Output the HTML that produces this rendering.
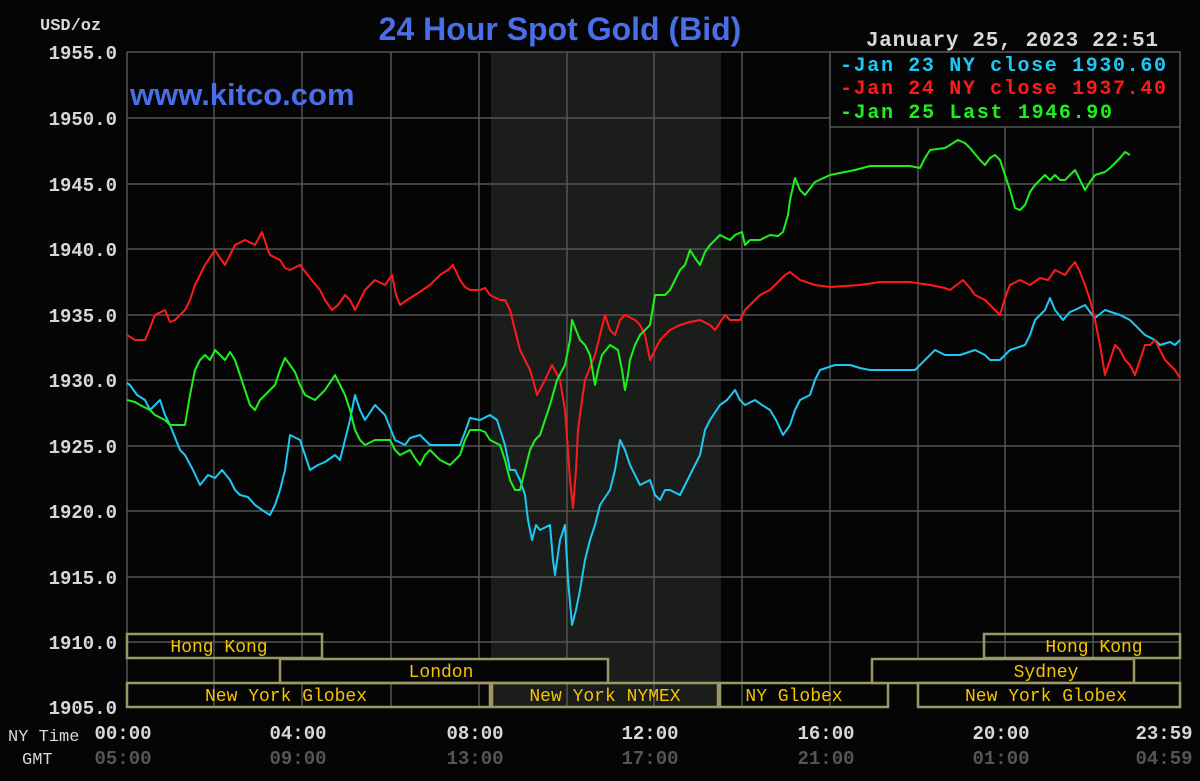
<!DOCTYPE html>
<html><head><meta charset="utf-8"><style>
html,body{margin:0;padding:0;background:#050505;}
svg{display:block}
text{font-family:"Liberation Mono","DejaVu Sans Mono",monospace;}
</style></head><body>
<svg width="1200" height="781" viewBox="0 0 1200 781" xmlns="http://www.w3.org/2000/svg">
<rect width="1200" height="781" fill="#050505"/>
<rect x="491" y="52" width="230" height="655" fill="#1a1d1a"/>
<g stroke="#555" stroke-width="1.5">
<line x1="127" y1="52" x2="1180" y2="52"/><line x1="127" y1="118" x2="1180" y2="118"/><line x1="127" y1="184" x2="1180" y2="184"/><line x1="127" y1="249" x2="1180" y2="249"/><line x1="127" y1="315" x2="1180" y2="315"/><line x1="127" y1="380" x2="1180" y2="380"/><line x1="127" y1="446" x2="1180" y2="446"/><line x1="127" y1="511" x2="1180" y2="511"/><line x1="127" y1="577" x2="1180" y2="577"/><line x1="127" y1="642" x2="1180" y2="642"/>
<line x1="127" y1="52" x2="127" y2="707"/><line x1="214" y1="52" x2="214" y2="707"/><line x1="302" y1="52" x2="302" y2="707"/><line x1="391" y1="52" x2="391" y2="707"/><line x1="479" y1="52" x2="479" y2="707"/><line x1="567" y1="52" x2="567" y2="707"/><line x1="654" y1="52" x2="654" y2="707"/><line x1="742" y1="52" x2="742" y2="707"/><line x1="830" y1="52" x2="830" y2="707"/><line x1="918" y1="52" x2="918" y2="707"/><line x1="1005" y1="52" x2="1005" y2="707"/><line x1="1093" y1="52" x2="1093" y2="707"/><line x1="1180" y1="52" x2="1180" y2="707"/>
</g>
<g font-size="19" font-weight="bold" fill="#d8d8d8" text-anchor="end">
<text x="117" y="59">1955.0</text><text x="117" y="125">1950.0</text><text x="117" y="191">1945.0</text><text x="117" y="256">1940.0</text><text x="117" y="322">1935.0</text><text x="117" y="387">1930.0</text><text x="117" y="453">1925.0</text><text x="117" y="518">1920.0</text><text x="117" y="584">1915.0</text><text x="117" y="649">1910.0</text><text x="117" y="714">1905.0</text>
</g>
<text x="40" y="30" font-size="17" font-weight="bold" fill="#d8d8d8">USD/oz</text>
<text x="560" y="40" font-size="32" font-weight="bold" fill="#4a6ee8" text-anchor="middle" style="font-family:'Liberation Sans',sans-serif">24 Hour Spot Gold (Bid)</text>
<text x="130" y="105" font-size="31" font-weight="bold" fill="#4a6ee8" style="font-family:'Liberation Sans',sans-serif">www.kitco.com</text>
<text x="1158" y="46" font-size="21" font-weight="bold" fill="#d8d8d8" text-anchor="end" textLength="292">January 25, 2023 22:51</text>
<rect x="830" y="52" width="350" height="75" fill="#050505" stroke="#555" stroke-width="1.5"/>
<g font-size="20" font-weight="bold">
<text x="840" y="71" fill="#1ec8f5" textLength="326">-Jan 23 NY close 1930.60</text>
<text x="840" y="94" fill="#ff1a1a" textLength="326">-Jan 24 NY close 1937.40</text>
<text x="840" y="118" fill="#1ef01e" textLength="272">-Jan 25 Last 1946.90</text>
</g>
<g fill="none" stroke-width="2" stroke-linejoin="round">
<polyline stroke="#1ec8f5" points="127,383 130,385 137,395 145,400 150,410 155,405 160,400 165,415 170,425 180,450 185,455 193,470 200,485 208,475 215,478 222,470 230,480 235,490 240,495 248,497 255,505 262,510 270,515 275,505 280,490 285,470 290,435 300,440 305,455 310,470 318,465 325,462 335,455 340,460 345,440 350,420 355,395 360,410 365,420 375,405 385,415 395,440 405,445 410,438 420,435 430,445 440,445 450,445 460,445 465,432 470,418 480,420 490,415 497,420 505,445 510,470 515,470 520,480 525,495 528,520 532,540 536,525 540,530 550,525 553,560 555,575 560,540 565,525 568,580 572,625 576,610 580,590 585,560 590,540 595,525 600,505 610,490 615,470 620,440 625,450 630,465 640,485 650,480 655,495 660,500 665,490 670,490 680,495 690,475 695,465 700,455 705,430 710,420 720,405 727,400 735,390 740,400 745,405 755,400 762,405 770,410 776,420 783,435 790,425 795,410 800,400 810,395 815,380 820,370 835,365 850,365 860,368 870,370 900,370 915,370 925,360 935,350 945,355 960,355 975,350 985,355 990,360 1000,360 1010,350 1025,345 1030,335 1035,320 1045,310 1050,298 1055,310 1063,320 1070,312 1075,310 1085,305 1090,312 1095,318 1105,310 1120,315 1130,320 1135,325 1145,335 1155,340 1160,345 1170,342 1175,345 1180,340"/>
<polyline stroke="#ff1a1a" points="127,335 135,340 145,340 150,328 155,315 165,310 170,322 175,320 185,310 190,300 195,285 205,265 215,250 220,258 225,265 235,245 245,240 255,245 262,232 268,250 270,255 280,260 285,268 290,270 300,265 310,278 320,290 325,300 332,310 338,305 345,295 350,300 355,310 360,300 365,290 375,280 385,285 392,275 396,295 400,305 407,300 415,295 430,285 440,275 448,270 453,265 460,280 465,287 470,290 480,290 485,288 490,295 500,300 505,300 510,310 515,330 520,350 525,360 530,370 533,380 537,395 545,380 552,365 560,380 565,410 568,450 570,480 573,508 576,470 578,430 582,400 585,380 595,355 600,335 605,315 610,330 615,335 620,320 625,315 635,320 640,325 645,335 648,350 650,360 655,350 660,340 670,330 680,325 690,322 700,320 710,325 715,330 725,315 730,320 740,320 745,310 750,305 760,295 770,290 775,285 785,275 790,272 800,280 815,285 830,287 860,285 880,282 910,282 930,285 945,288 950,290 963,280 970,288 975,295 985,300 990,305 1000,315 1005,298 1010,285 1020,280 1030,285 1040,278 1048,280 1055,270 1065,275 1070,268 1075,262 1080,272 1085,285 1090,300 1095,320 1100,345 1105,375 1110,360 1115,345 1120,350 1125,360 1130,365 1135,375 1140,360 1145,345 1150,345 1155,340 1160,350 1165,360 1170,365 1175,370 1180,378"/>
<polyline stroke="#1ef01e" points="127,400 135,402 140,405 150,410 155,415 165,420 170,425 185,425 190,395 195,370 200,360 205,355 210,360 215,350 225,360 230,352 235,360 240,375 245,390 250,405 255,410 260,400 265,395 275,385 280,370 285,358 290,365 295,372 300,385 305,395 315,400 320,395 325,390 335,375 340,385 345,395 350,410 355,430 360,440 365,445 375,440 380,440 390,440 395,450 400,455 410,450 415,458 420,465 425,455 430,450 435,455 440,460 450,465 455,460 460,455 465,440 470,430 480,430 485,432 490,440 500,445 505,460 510,480 515,490 520,490 525,470 530,450 535,440 540,435 545,420 550,405 557,380 565,365 570,340 572,320 576,330 580,340 585,345 590,355 595,385 598,370 602,355 610,345 618,350 622,370 625,390 628,375 630,360 635,345 640,335 645,330 650,325 655,295 665,295 670,290 675,280 680,270 685,265 690,250 695,258 700,265 705,252 710,245 715,240 720,235 730,240 735,235 742,232 745,245 750,240 760,240 770,235 778,236 783,232 788,215 790,200 795,178 800,190 805,195 815,182 830,175 845,172 855,170 870,166 910,166 920,168 925,158 930,150 945,148 950,145 958,140 965,143 970,148 980,160 985,165 990,158 995,155 1000,160 1005,175 1010,190 1015,208 1020,210 1025,205 1030,192 1035,185 1045,175 1050,180 1055,175 1060,180 1065,180 1070,175 1075,170 1080,180 1085,190 1090,182 1095,175 1105,172 1110,168 1115,163 1120,158 1125,152 1130,155"/>
</g>
<g stroke="#9c9866" stroke-width="2.5" fill="#050505">
<rect x="127" y="634" width="195" height="24" fill="none"/>
<rect x="280" y="659" width="328" height="24"/>
<rect x="127" y="683" width="363" height="24" fill="none"/>
<rect x="492" y="683" width="226" height="24" fill="none"/>
<rect x="720" y="683" width="168" height="24" fill="none"/>
<rect x="984" y="634" width="196" height="24" fill="none"/>
<rect x="872" y="659" width="262" height="24"/>
<rect x="918" y="683" width="262" height="24"/>
</g>
<g font-size="18" fill="#f5c400" text-anchor="middle">
<text x="219" y="652">Hong Kong</text>
<text x="441" y="677">London</text>
<text x="286" y="701">New York Globex</text>
<text x="605" y="701">New York NYMEX</text>
<text x="794" y="701">NY Globex</text>
<text x="1094" y="652">Hong Kong</text>
<text x="1046" y="677">Sydney</text>
<text x="1046" y="701">New York Globex</text>
</g>
<g font-size="19" font-weight="bold" text-anchor="middle">
<text x="8" y="741" font-weight="normal" font-size="17" fill="#d8d8d8" text-anchor="start">NY Time</text>
<text x="22" y="764" font-weight="normal" font-size="17" fill="#d8d8d8" text-anchor="start">GMT</text>
<g fill="#d8d8d8">
<text x="123" y="739">00:00</text><text x="298" y="739">04:00</text><text x="475" y="739">08:00</text><text x="650" y="739">12:00</text><text x="826" y="739">16:00</text><text x="1001" y="739">20:00</text><text x="1164" y="739">23:59</text>
</g>
<g fill="#555">
<text x="123" y="764">05:00</text><text x="298" y="764">09:00</text><text x="475" y="764">13:00</text><text x="650" y="764">17:00</text><text x="826" y="764">21:00</text><text x="1001" y="764">01:00</text><text x="1164" y="764">04:59</text>
</g>
</g>
</svg>
</body></html>
